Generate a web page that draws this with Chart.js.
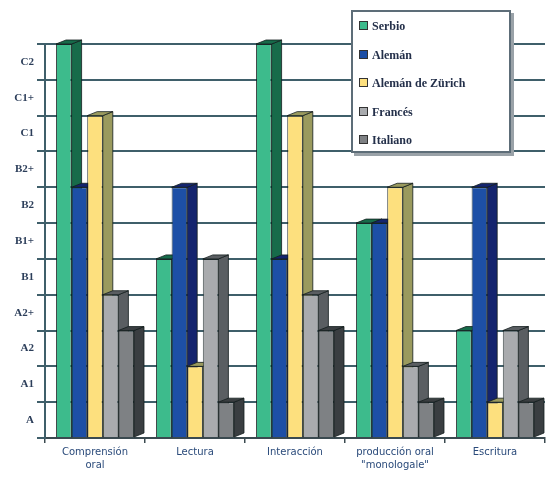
<!DOCTYPE html>
<html>
<head>
<meta charset="utf-8">
<script src="https://cdn.jsdelivr.net/npm/chart.js@4/dist/chart.umd.min.js"></script>
<style>
  body { margin: 0; background: #fff; }
  #wrap { position: relative; width: 551px; height: 480px; }
  #legend {
    position: absolute; left: 351px; top: 10px; width: 156px; height: 139px;
    background: #fff; border: 2px solid #5d6d78; box-shadow: 3px 3px 0 #9aa2a8;
    font: bold 12px "Liberation Serif", serif; color: #24304a;
  }
  #legend div { height: 28.5px; line-height: 28.5px; padding-left: 6px; white-space: nowrap; }
  #legend span { display: inline-block; width: 7px; height: 7px; border: 1px solid #333; margin-right: 4px; vertical-align: 0px; }
</style>
</head>
<body>
<div id="wrap">
  <canvas id="chart" width="551" height="480"></canvas>
  <div id="legend"></div>
</div>
<script>
const CATEGORIES = [['Comprensión', 'oral'], 'Lectura', 'Interacción', ['producción oral', '"monologale"'], 'Escritura'];
const LEVELS = ['A', 'A1', 'A2', 'A2+', 'B1', 'B1+', 'B2', 'B2+', 'C1', 'C1+', 'C2'];
const SERIES = ['Serbio', 'Alemán', 'Alemán de Zürich', 'Francés', 'Italiano'];

// level reached, counted in bands from the floor (1 = A ... 11 = C2)
const SERBIO = [11, 5, 11, 6, 3];
const ALEMAN = [7, 7, 5, 6, 7];
const ZURICH = [9, 2, 9, 7, 1];
const FRANCES = [4, 5, 4, 2, 3];
const ITALIANO = [3, 1, 3, 1, 1];

const FRONT = ['#3dbb8c', '#1d4fa6', '#fde07e', '#a9abae', '#7e8184'];
const SIDE = ['#176b4a', '#14246e', '#9a9a5e', '#5a5e62', '#3a3e41'];

const DX = 10, DY = 4; // depth of the fake 3d

// side and top faces go under all front faces
const bars3d = {
  id: 'bars3d',
  beforeDatasetsDraw(chart) {
    const ctx = chart.ctx;
    ctx.save();
    ctx.lineWidth = 1;
    ctx.strokeStyle = 'rgba(20,30,30,0.8)';
    chart.data.datasets.forEach((ds, i) => {
      chart.getDatasetMeta(i).data.forEach(bar => {
        const p = bar.getProps(['x', 'y', 'base', 'width'], true);
        const l = p.x - p.width / 2, r = p.x + p.width / 2;
        ctx.fillStyle = SIDE[i];
        ctx.beginPath();
        ctx.moveTo(r, p.y); ctx.lineTo(r + DX, p.y - DY);
        ctx.lineTo(r + DX, p.base - DY); ctx.lineTo(r, p.base);
        ctx.closePath(); ctx.fill(); ctx.stroke();
        ctx.beginPath();
        ctx.moveTo(l, p.y); ctx.lineTo(l + DX, p.y - DY);
        ctx.lineTo(r + DX, p.y - DY); ctx.lineTo(r, p.y);
        ctx.closePath(); ctx.fill(); ctx.stroke();
      });
    });
    ctx.restore();
  }
};

const values = [SERBIO, ALEMAN, ZURICH, FRANCES, ITALIANO];

new Chart(document.getElementById('chart'), {
  type: 'bar',
  data: {
    labels: CATEGORIES,
    datasets: SERIES.map((name, i) => ({
      label: name,
      data: values[i],
      backgroundColor: FRONT[i],
      borderColor: 'rgba(20,30,30,0.8)',
      borderWidth: 1,
      categoryPercentage: 0.78,
      barPercentage: 1.0
    }))
  },
  options: {
    responsive: false,
    animation: false,
    layout: { padding: { top: 44, right: 6, left: 0, bottom: 0 } },
    plugins: { legend: { display: false }, tooltip: { enabled: false } },
    scales: {
      x: {
        afterFit(s) { s.height = 42; },
        grid: { drawOnChartArea: false, color: '#3a4a50', lineWidth: 1.5, tickLength: 5 },
        border: { color: '#3a4a50', width: 2 },
        ticks: { color: '#2a4a7a', font: { family: 'DejaVu Sans', size: 10, lineHeight: 1.3 }, padding: 3, maxRotation: 0, autoSkip: false }
      },
      y: {
        min: 0, max: 11,
        afterFit(s) { s.width = 45; },
        grid: { color: '#3f5f6a', lineWidth: 2, tickLength: 8 },
        border: { color: '#3f5f6a', width: 2 },
        ticks: {
          stepSize: 1,
          autoSkip: false,
          labelOffset: 18,
          padding: 3,
          color: '#2c3e5a',
          font: { family: 'Liberation Serif', size: 11, weight: 'bold' },
          callback: v => v > 0 ? LEVELS[v - 1] : ''
        }
      }
    }
  },
  plugins: [bars3d]
});

const legend = document.getElementById('legend');
SERIES.forEach((name, i) => {
  const row = document.createElement('div');
  const sw = document.createElement('span');
  sw.style.background = FRONT[i];
  row.appendChild(sw);
  row.appendChild(document.createTextNode(name));
  legend.appendChild(row);
});
</script>
</body>
</html>
